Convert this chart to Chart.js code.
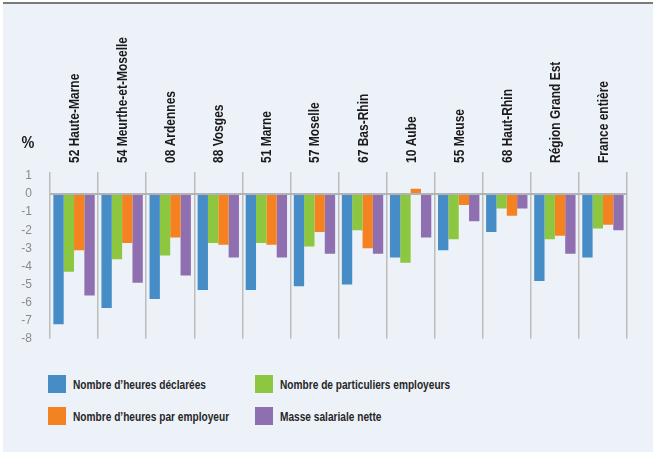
<!DOCTYPE html>
<html>
<head>
<meta charset="utf-8">
<script src="https://cdn.jsdelivr.net/npm/chart.js@4"></script>
<style>
  html, body { margin: 0; padding: 0; background: #ffffff; }
  #panel {
    position: absolute; left: 3px; top: 2px; width: 650px; height: 448px;
    background: #edf2f9; border-top: 2px solid #7a7a7a;
  }
  #wrap { position: absolute; left: 0; top: 0; width: 650px; height: 360px; }
  #legend { position: absolute; left: 45px; top: 371px; width: 600px; }
  .item {
    position: absolute; display: flex; align-items: center;
    font-family: "Liberation Sans", Arial, sans-serif;
    font-weight: bold; font-size: 13px; color: #262626; white-space: nowrap;
  }
  .txt { display: inline-block; transform: scaleX(0.78); transform-origin: left center; }
  .box { width: 18px; height: 18px; margin-right: 7px; }
</style>
</head>
<body>
<div id="panel">
  <div id="wrap"><canvas id="myChart" width="650" height="360"></canvas></div>
  <div id="legend"></div>
</div>
<script>
// Categories and series (en %)
var categories = ['52 Haute-Marne', '54 Meurthe-et-Moselle', '08 Ardennes', '88 Vosges', '51 Marne',
    '57 Moselle', '67 Bas-Rhin', '10 Aube', '55 Meuse', '68 Haut-Rhin', 'Région Grand Est', 'France entière'];
var heuresDeclarees = [-7.2, -6.3, -5.8, -5.3, -5.3, -5.1, -5.0, -3.5, -3.1, -2.1, -4.8, -3.5];
var particuliersEmployeurs = [-4.3, -3.6, -3.4, -2.7, -2.7, -2.9, -2.0, -3.8, -2.5, -0.8, -2.5, -1.9];
var heuresParEmployeur = [-3.1, -2.7, -2.4, -2.8, -2.8, -2.1, -3.0, 0.3, -0.6, -1.2, -2.3, -1.7];
var masseSalariale = [-5.6, -4.9, -4.5, -3.5, -3.5, -3.3, -3.3, -2.4, -1.5, -0.8, -3.3, -2.0];
var yTicks = [1, 0, -1, -2, -3, -4, -5, -6, -7, -8];

var seriesNames = ["Nombre d\u2019heures déclarées", 'Nombre de particuliers employeurs',
    "Nombre d\u2019heures par employeur", 'Masse salariale nette'];
var seriesColors = ['#468cc6', '#8dc63f', '#f58220', '#8f6fb0'];
var seriesData = [heuresDeclarees, particuliersEmployeurs, heuresParEmployeur, masseSalariale];

var sans = '"Liberation Sans", Arial, sans-serif';

// narrow-looking vertical category labels + the "%" unit label
var topLabels = {
    id: 'topLabels',
    afterDraw: function (chart) {
        var ctx = chart.ctx;
        var xs = chart.scales.x;
        ctx.save();
        ctx.font = 'bold 15px ' + sans;
        ctx.fillStyle = '#1a1a1a';
        ctx.textAlign = 'left';
        ctx.textBaseline = 'alphabetic';
        xs.ticks.forEach(function (t, i) {
            ctx.save();
            ctx.translate(xs.getPixelForTick(i) + 5, xs.bottom - 13);
            ctx.rotate(-Math.PI / 2);
            ctx.scale(0.8, 1);
            ctx.fillText(categories[i], 0, 0);
            ctx.restore();
        });
        ctx.font = 'bold 17px ' + sans;
        ctx.textAlign = 'center';
        ctx.textBaseline = 'middle';
        ctx.translate(25, 139);
        ctx.scale(0.85, 1);
        ctx.fillText('%', 0, 0);
        ctx.restore();
    }
};

var ctx = document.getElementById('myChart').getContext('2d');
var myChart = new Chart(ctx, {
    type: 'bar',
    data: {
        labels: categories,
        datasets: seriesData.map(function (d, i) {
            return {
                label: seriesNames[i],
                data: d,
                backgroundColor: seriesColors[i],
                borderWidth: 0,
                categoryPercentage: 0.86,
                barPercentage: 1.0
            };
        })
    },
    options: {
        responsive: false,
        animation: false,
        layout: { padding: { top: 0, right: 26, bottom: 21, left: 0 } },
        plugins: {
            legend: { display: false },
            tooltip: { enabled: false }
        },
        scales: {
            x: {
                position: 'top',
                border: { display: false },
                grid: {
                    color: '#bdbdbd',
                    lineWidth: 1.5,
                    tickLength: 4,
                    offset: true
                },
                ticks: { display: false },
                afterFit: function (scale) { scale.height = 172; }
            },
            y: {
                min: -8,
                max: 1,
                border: { display: false },
                afterBuildTicks: function (scale) {
                    scale.ticks = yTicks.map(function (v) { return { value: v }; });
                },
                grid: {
                    drawTicks: false,
                    color: function (c) { return c.tick && c.tick.value === 0 ? '#b3b3b3' : 'rgba(0,0,0,0)'; },
                    lineWidth: 2
                },
                ticks: {
                    padding: 18,
                    color: '#8a8a8a',
                    font: { family: sans, size: 12 }
                },
                afterFit: function (scale) { scale.width = 47; }
            }
        }
    },
    plugins: [topLabels]
});

// Two-column legend under the chart
var legend = document.getElementById('legend');
var legendPos = [[0, 0], [207, 0], [0, 32], [207, 32]];
seriesNames.forEach(function (name, i) {
    var item = document.createElement('div');
    item.className = 'item';
    item.style.left = legendPos[i][0] + 'px';
    item.style.top = legendPos[i][1] + 'px';
    var box = document.createElement('span');
    box.className = 'box';
    box.style.background = seriesColors[i];
    var txt = document.createElement('span');
    txt.className = 'txt';
    txt.textContent = name;
    item.appendChild(box);
    item.appendChild(txt);
    legend.appendChild(item);
});
</script>
</body>
</html>
